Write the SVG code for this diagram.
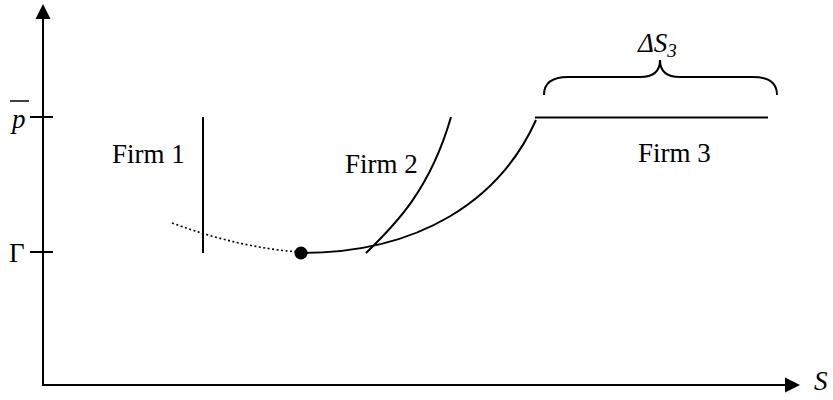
<svg xmlns="http://www.w3.org/2000/svg" width="833" height="400" viewBox="0 0 833 400">
<style>
.ln{fill:none;stroke:#000;stroke-width:2}
.t{font-family:'Liberation Serif','Times New Roman',serif;font-size:27px;fill:#000}
.i{font-style:italic}
</style>
<rect width="833" height="400" fill="#fff"/>
<g id="axes">
<line class="ln" x1="43" y1="16" x2="43" y2="386"/>
<polygon points="43,4 35.5,19 50.5,19" fill="#000"/>
<line class="ln" x1="42" y1="385" x2="788" y2="385"/>
<polygon points="800,385 785,377.5 785,392.5" fill="#000"/>
<line class="ln" x1="30" y1="117" x2="53" y2="117"/>
<line class="ln" x1="30" y1="252" x2="53" y2="252"/>
</g>
<g id="labels">
<text class="t i" x="12" y="128">p</text>
<line x1="10" y1="101" x2="29" y2="101" stroke="#000" stroke-width="1.5"/>
<text class="t" x="9" y="262">Γ</text>
<text class="t i" x="814" y="390">S</text>
<text class="t" x="112" y="163">Firm 1</text>
<text class="t" x="345" y="173">Firm 2</text>
<text class="t" x="638" y="162">Firm 3</text>
<text class="t i" x="638" y="52">ΔS<tspan font-size="19" dy="5">3</tspan></text>
</g>
<g id="curves">
<line class="ln" x1="203" y1="117" x2="203" y2="253"/>
<path d="M172,223 Q240,248 300,252" fill="none" stroke="#000" stroke-width="1.6" stroke-dasharray="2,2.5"/>
<path class="ln" d="M301,253 C420,253 500,200 536,120"/>
<path class="ln" d="M366,253 C395,225 430,190 451,117"/>
<line class="ln" x1="535" y1="117.5" x2="768" y2="117.5"/>
<circle cx="301" cy="253" r="6.5" fill="#000"/>
<path class="ln" d="M544,95 C544,83 552,77 568,77 L640,77 C652,77 660,72 660,60 C660,72 668,77 680,77 L753,77 C769,77 777,83 777,95"/>
</g>
</svg>
